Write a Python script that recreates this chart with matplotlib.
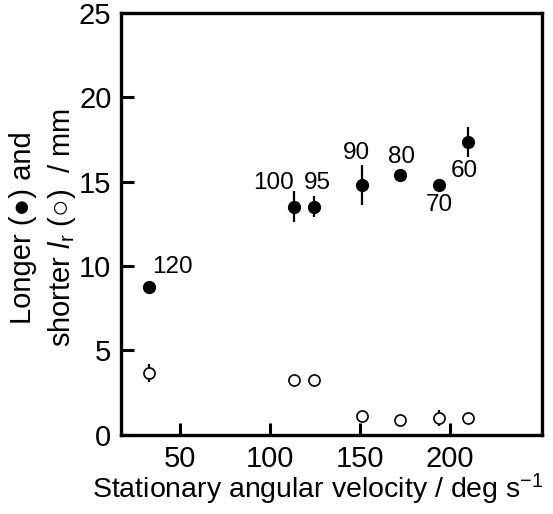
import matplotlib
matplotlib.use('Agg')
import matplotlib.pyplot as plt

plt.rcParams['font.family'] = ['Liberation Sans', 'DejaVu Sans']
plt.rcParams['mathtext.fontset'] = 'custom'
plt.rcParams['mathtext.rm'] = 'Liberation Sans'
plt.rcParams['mathtext.it'] = 'Liberation Sans:italic'

# stationary angular velocity (deg/s)
velocity = [32.8, 113.3, 124.6, 151.1, 172.6, 194.1, 210.4]
# longer lr (filled) and error
longer = [8.73, 13.52, 13.52, 14.79, 15.4, 14.79, 17.34]
longer_err = [0.0, 0.93, 0.63, 1.2, 0.0, 0.0, 0.87]
# shorter lr (open) and error
shorter = [3.65, 3.26, 3.26, 1.14, 0.9, 1.0, 1.0]
shorter_err = [0.53, 0.0, 0.0, 0.0, 0.0, 0.45, 0.0]
# point labels
point_labels = ['120', '100', '95', '90', '80', '70', '60']
label_offsets = [(17, 15), (-15, 17), (2, 17), (-4, 23), (1, 13), (0, -14), (-3, -21)]

fig = plt.figure(figsize=(5.53, 5.14), dpi=100)
ax = fig.add_axes([0.219, 0.154, 0.761, 0.821])

ax.errorbar(velocity, longer, yerr=longer_err, fmt='o', color='black',
            markersize=8.5, elinewidth=1.6, capsize=0, zorder=3)
ax.errorbar(velocity, shorter, yerr=shorter_err, fmt='o', color='black',
            markerfacecolor='white', markeredgewidth=1.2, markersize=8,
            elinewidth=1.6, capsize=0, zorder=3)

for x, y, lab, off in zip(velocity, longer, point_labels, label_offsets):
    ax.annotate(lab, xy=(x, y), xytext=off, textcoords='offset points',
                ha='center', va='center', fontsize=17.5)

ax.set_xlim(17.2, 251.3)
ax.set_ylim(0, 25)
ax.set_xticks([50, 100, 150, 200])
ax.set_yticks([0, 5, 10, 15, 20, 25])
ax.tick_params(direction='in', length=9, width=2.2, labelsize=21, pad=7)

for s in ax.spines.values():
    s.set_linewidth(2.4)

ax.set_xlabel('Stationary angular velocity / deg s$^{-1}$', fontsize=20.5)
ax.xaxis.set_label_coords(0.468, -0.088)
ax.set_ylabel('Longer (●) and\nshorter $\\it{l}_{\\rm r}$ (○)  / mm',
              fontsize=21, linespacing=1.35)
ax.yaxis.set_label_coords(-0.103, 0.49)

plt.savefig('out.png')
